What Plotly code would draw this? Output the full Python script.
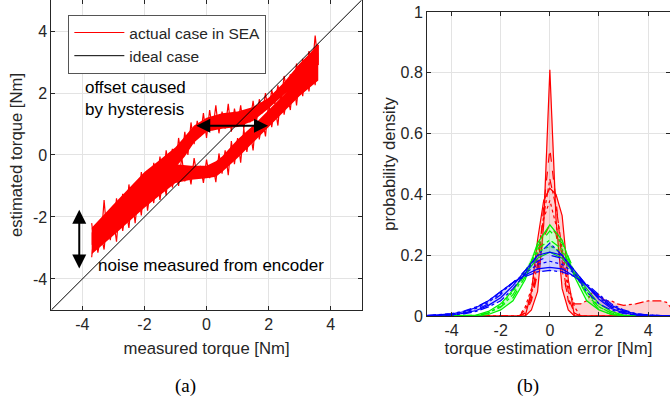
import numpy as np
import plotly.graph_objects as go

# ---------------- data: panel (a) ----------------
# noisy estimated-torque trace, branch 1 (loading) and branch 2 (unloading), sampled every 0.1 Nm
band_x = [-3.7, -3.6, -3.5, -3.4, -3.3, -3.2, -3.1, -3.0, -2.9, -2.8, -2.7, -2.6, -2.5, -2.4, -2.3,
          -2.2, -2.1, -2.0, -1.9, -1.8, -1.7, -1.6, -1.5, -1.4, -1.3, -1.2, -1.1, -1.0, -0.9, -0.8,
          -0.7, -0.6, -0.5, -0.4, -0.3, -0.2, -0.1, 0.0, 0.1, 0.2, 0.3, 0.4, 0.5, 0.6, 0.7, 0.8,
          0.9, 1.0, 1.1, 1.2, 1.3, 1.4, 1.5, 1.6, 1.7, 1.8, 1.9, 2.0, 2.1, 2.2, 2.3, 2.4, 2.5,
          2.6, 2.7, 2.8, 2.9, 3.0, 3.1, 3.2, 3.3, 3.4, 3.5, 3.6]
branch1_y = [-3.30, -2.35, -3.15, -2.55, -3.05, -2.00, -2.75, -2.05, -2.80, -1.60,
             -2.45, -1.75, -2.35, -1.30, -2.20, -1.25, -1.95, -0.80, -1.80, -1.05,
             -1.55, -0.55, -1.45, -0.70, -1.30, -0.25, -1.05, -0.45, -1.00, -0.05,
             -0.85, -0.40, -0.95, -0.10, -0.70, -0.35, -0.90, -0.15, -0.75, -0.30,
             -0.88, 0.05, -0.60, 0.15, -0.65, 0.45, -0.30, 0.55, -0.25, 0.85,
             0.10, 0.80, 0.15, 1.25, 0.50, 1.15, 0.60, 1.70, 0.90, 1.55,
             0.95, 2.05, 1.30, 1.95, 1.45, 2.45, 1.60, 2.55, 1.90, 3.00,
             2.05, 2.95, 2.25, 3.55]
branch2_y = [-2.20, -3.00, -2.35, -2.80, -1.45, -2.65, -1.85, -2.45, -1.40, -2.15,
             -1.25, -2.05, -0.95, -1.70, -1.00, -1.60, -0.55, -1.35, -0.50, -1.20,
             -0.25, -0.95, -0.05, -0.80, 0.15, -0.55, 0.20, -0.45, 0.55, -0.15,
             0.75, 0.00, 1.05, 0.35, 1.10, 0.60, 1.35, 0.55, 1.45, 0.80,
             1.60, 0.70, 1.40, 0.85, 1.65, 0.75, 1.50, 0.95, 1.60, 0.85,
             1.45, 1.05, 1.75, 1.00, 1.80, 1.35, 2.00, 1.30, 2.10, 1.65,
             2.25, 1.70, 2.55, 2.00, 2.60, 2.05, 2.95, 2.35, 3.10, 2.40,
             3.35, 2.70, 3.85, 2.90]
# dense core of each branch (where the noise is solid)
core1_x = [-3.7, -3.0, -2.0, -1.5, -1.0, -0.5, 0.0, 0.3, 0.5, 1.0, 1.5, 2.0, 2.5, 3.0, 3.3, 3.6]
core1_lo = [-3.2, -2.6, -1.7, -1.3, -0.9, -0.8, -0.75, -0.7, -0.55, -0.1, 0.4, 0.9, 1.4, 1.9, 2.15, 2.4]
core1_hi = [-2.5, -1.9, -1.0, -0.6, -0.3, -0.35, -0.35, -0.2, -0.05, 0.5, 0.95, 1.45, 1.95, 2.5, 2.85, 3.3]
core2_x = [-3.7, -3.0, -2.0, -1.5, -1.0, -0.7, -0.4, 0.0, 0.5, 1.0, 1.5, 2.0, 2.5, 3.0, 3.3, 3.6]
core2_lo = [-2.9, -2.25, -1.25, -0.85, -0.4, -0.05, 0.4, 0.75, 0.85, 0.9, 1.1, 1.5, 1.95, 2.4, 2.7, 3.0]
core2_hi = [-2.35, -1.6, -0.55, -0.15, 0.25, 0.6, 0.95, 1.2, 1.35, 1.4, 1.55, 1.85, 2.35, 2.95, 3.25, 3.6]
ideal_x = [-5, 5]
ideal_y = [-5, 5]

# ---------------- data: panel (b) ----------------
red_x = [-5, -1.25, -1, -0.75, -0.5, -0.25, 0, 0.25, 0.5, 0.75, 1, 1.25, 1.5, 1.75, 2, 2.25,
         2.5, 2.75, 3, 3.5, 4, 4.5, 4.75, 5]
red_curves = [
    [0, 0, 0, 0.02, 0.08, 0.30, 0.81, 0.32, 0.09, 0.02, 0, 0, 0, 0, 0, 0, 0, 0, 0, 0, 0, 0, 0, 0],
    [0, 0, 0.01, 0.05, 0.14, 0.36, 0.55, 0.38, 0.18, 0.05, 0.01, 0, 0, 0, 0, 0, 0, 0, 0, 0, 0, 0, 0, 0],
    [0, 0, 0.02, 0.07, 0.17, 0.33, 0.45, 0.36, 0.22, 0.08, 0.04, 0.04, 0.05, 0.08, 0.07, 0.05,
     0.05, 0.04, 0.035, 0.04, 0.05, 0.05, 0.045, 0.02],
    [0, 0, 0, 0.08, 0.25, 0.38, 0.42, 0.40, 0.33, 0.12, 0, 0, 0, 0, 0, 0, 0, 0, 0, 0, 0, 0, 0, 0],
    [0, 0, 0.03, 0.09, 0.20, 0.32, 0.38, 0.30, 0.20, 0.10, 0.03, 0, 0, 0, 0, 0, 0, 0, 0, 0, 0, 0, 0, 0],
    [0, 0, 0.01, 0.06, 0.15, 0.26, 0.30, 0.27, 0.15, 0.06, 0.01, 0, 0, 0, 0, 0, 0, 0, 0, 0, 0, 0, 0, 0],
]
red_dash = ["solid", "dash", "dashdot", "solid", "dot", "dash"]

green_x = [-5, -3, -2.5, -2, -1.5, -1, -0.5, 0, 0.5, 1, 1.5, 2, 2.5, 3, 5]
green_curves = [
    [0, 0, 0.005, 0.02, 0.05, 0.12, 0.24, 0.30, 0.25, 0.13, 0.05, 0.02, 0.005, 0, 0],
    [0, 0, 0.01, 0.03, 0.06, 0.13, 0.23, 0.28, 0.24, 0.15, 0.07, 0.02, 0.005, 0, 0],
    [0, 0.002, 0.01, 0.03, 0.07, 0.14, 0.22, 0.25, 0.22, 0.14, 0.07, 0.03, 0.01, 0.002, 0],
    [0, 0, 0.01, 0.035, 0.08, 0.15, 0.21, 0.23, 0.21, 0.15, 0.08, 0.03, 0.01, 0, 0],
    [0, 0.003, 0.015, 0.04, 0.085, 0.14, 0.19, 0.21, 0.19, 0.14, 0.09, 0.04, 0.015, 0.003, 0],
]
green_dash = ["solid", "dash", "dashdot", "dot", "solid"]

blue_x = [-5, -4.5, -4, -3.5, -3, -2.5, -2, -1.5, -1, -0.5, 0, 0.5, 1, 1.5, 2, 2.5, 3, 3.5, 4, 4.5, 5]
blue_curves = [
    [0, 0.001, 0.003, 0.007, 0.015, 0.03, 0.05, 0.09, 0.14, 0.20, 0.24, 0.20, 0.14, 0.08, 0.04, 0.02, 0.008, 0.003, 0.001, 0, 0],
    [0, 0.002, 0.004, 0.009, 0.018, 0.035, 0.06, 0.10, 0.15, 0.20, 0.21, 0.20, 0.15, 0.10, 0.055, 0.025, 0.01, 0.004, 0.002, 0.001, 0],
    [0.001, 0.002, 0.005, 0.01, 0.02, 0.04, 0.07, 0.11, 0.15, 0.18, 0.20, 0.19, 0.15, 0.10, 0.06, 0.03, 0.012, 0.005, 0.002, 0.001, 0],
    [0.001, 0.003, 0.006, 0.012, 0.025, 0.045, 0.075, 0.11, 0.14, 0.17, 0.18, 0.17, 0.14, 0.10, 0.06, 0.03, 0.015, 0.006, 0.003, 0.001, 0],
    [0.001, 0.003, 0.007, 0.014, 0.028, 0.05, 0.08, 0.11, 0.135, 0.155, 0.16, 0.155, 0.13, 0.10, 0.065, 0.035, 0.017, 0.007, 0.003, 0.001, 0],
    [0.002, 0.004, 0.008, 0.016, 0.03, 0.05, 0.08, 0.11, 0.13, 0.145, 0.15, 0.145, 0.13, 0.105, 0.07, 0.04, 0.02, 0.008, 0.003, 0.001, 0],
]
blue_dash = ["dashdot", "solid", "dash", "dot", "solid", "dashdot"]

tick_vals = [-4, -2, 0, 2, 4]
tick_text = ["-4", "-2", "0", "2", "4"]
pdf_tick_vals = [0, 0.2, 0.4, 0.6, 0.8, 1]
pdf_tick_text = ["0", "0.2", "0.4", "0.6", "0.8", "1"]

# ---------------- figure ----------------
FONT = "Liberation Sans"
AX = "#262626"
GRID = "#e3e3e3"
fig = go.Figure()

# panel (a)
for cx, lo, hi in [(core1_x, core1_lo, core1_hi), (core2_x, core2_lo, core2_hi)]:
    fig.add_trace(go.Scatter(x=cx + cx[::-1], y=lo + hi[::-1], fill="toself", mode="none",
                             fillcolor="#ff0000", showlegend=False, hoverinfo="skip",
                             xaxis="x", yaxis="y"))
fig.add_trace(go.Scatter(x=band_x + band_x[::-1], y=branch1_y + branch2_y[::-1], mode="lines",
                         line=dict(color="#ff0000", width=1.2), name="actual case in SEA",
                         xaxis="x", yaxis="y"))
fig.add_trace(go.Scatter(x=ideal_x, y=ideal_y, mode="lines", line=dict(color="black", width=1),
                         name="ideal case", xaxis="x", yaxis="y"))


def add_group(xs, curves, dashes, color, fill):
    arr = np.array(curves)
    fig.add_trace(go.Scatter(x=xs, y=arr.min(axis=0), mode="lines", line=dict(width=0),
                             showlegend=False, hoverinfo="skip", xaxis="x2", yaxis="y2"))
    fig.add_trace(go.Scatter(x=xs, y=arr.max(axis=0), mode="lines", line=dict(width=0),
                             fill="tonexty", fillcolor=fill, showlegend=False, hoverinfo="skip",
                             xaxis="x2", yaxis="y2"))
    for c, d in zip(curves, dashes):
        fig.add_trace(go.Scatter(x=xs, y=c, mode="lines", line=dict(color=color, width=1.2, dash=d),
                                 showlegend=False, xaxis="x2", yaxis="y2"))


add_group(red_x, red_curves, red_dash, "#ff0000", "rgba(255,0,0,0.18)")
add_group(green_x, green_curves, green_dash, "#00f000", "rgba(0,255,0,0.2)")
add_group(blue_x, blue_curves, blue_dash, "#0000ff", "rgba(0,0,255,0.18)")

axis_common = dict(showline=True, linecolor=AX, linewidth=1, mirror="ticks", ticks="inside",
                   ticklen=4, tickcolor=AX, showgrid=True, gridcolor=GRID, gridwidth=1,
                   zeroline=False, automargin=False,
                   tickfont=dict(family=FONT, size=16, color=AX))

fig.update_layout(
    width=670, height=404, margin=dict(l=0, r=0, t=0, b=0),
    paper_bgcolor="white", plot_bgcolor="white",
    font=dict(family=FONT, color=AX),
    xaxis=dict(domain=[0.0766, 0.5399], range=[-5, 5], tickvals=tick_vals, ticktext=tick_text,
               title=dict(text="measured torque [Nm]", font=dict(size=16.7, color=AX), standoff=10),
               anchor="y", **axis_common),
    yaxis=dict(domain=[0.2327, 1.0], range=[-5, 5], tickvals=tick_vals, ticktext=tick_text,
               title=dict(text="estimated torque [Nm]", font=dict(size=16.7, color=AX), standoff=6),
               anchor="x", **axis_common),
    xaxis2=dict(domain=[0.6373, 1.0], range=[-5, 4.89], tickvals=tick_vals, ticktext=tick_text,
                title=dict(text="torque estimation error [Nm]", font=dict(size=16.7, color=AX), standoff=0),
                anchor="y2", **axis_common),
    yaxis2=dict(domain=[0.2178, 0.9703], range=[0, 1], tickvals=pdf_tick_vals, ticktext=pdf_tick_text,
                title=dict(text="probability density", font=dict(size=16.7, color=AX), standoff=0),
                anchor="x2", **axis_common),
    legend=dict(x=0.102, y=0.963, xanchor="left", yanchor="top", bgcolor="white",
                bordercolor="#555555", borderwidth=1, itemwidth=50, traceorder="normal",
                font=dict(family=FONT, size=15.5, color=AX), tracegroupgap=0),
    showlegend=True,
)

ann = [
    dict(x=1.98, y=0.94, ax=-0.38, ay=0.94, xref="x", yref="y", axref="x", ayref="y", text="",
         showarrow=True, arrowhead=2, arrowside="end+start", arrowsize=1.4, arrowwidth=2,
         arrowcolor="black"),
    dict(x=-4.1, y=-1.77, ax=-4.1, ay=-3.71, xref="x", yref="y", axref="x", ayref="y", text="",
         showarrow=True, arrowhead=2, arrowside="end+start", arrowsize=1.4, arrowwidth=2,
         arrowcolor="black"),
    dict(x=-3.99, y=1.82, xref="x", yref="y", text="offset caused<br>by hysteresis",
         showarrow=False, xanchor="left", yanchor="middle", align="left",
         font=dict(family=FONT, size=17, color="black")),
    dict(x=-3.55, y=-3.55, xref="x", yref="y", text="noise measured from encoder",
         showarrow=False, xanchor="left", yanchor="middle",
         font=dict(family=FONT, size=17, color="black")),
    dict(x=185 / 670, y=1 - 386 / 404, xref="paper", yref="paper", text="(a)", showarrow=False,
         xanchor="center", yanchor="middle", font=dict(family="Liberation Serif", size=19, color="black")),
    dict(x=528 / 670, y=1 - 386 / 404, xref="paper", yref="paper", text="(b)", showarrow=False,
         xanchor="center", yanchor="middle", font=dict(family="Liberation Serif", size=19, color="black")),
]
fig.update_layout(annotations=ann)

fig.write_html("out.html", config={"displayModeBar": False},
               post_script="document.body.style.margin='0';")
